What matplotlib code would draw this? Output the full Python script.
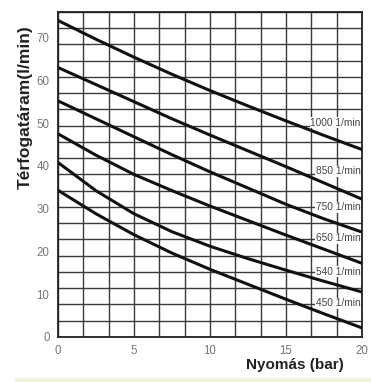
import numpy as np
import matplotlib
matplotlib.use("Agg")
import matplotlib.pyplot as plt

plt.rcParams['font.family'] = ['Liberation Sans', 'DejaVu Sans']

# pressure (bar)
pressure = [0, 2.5, 5, 7.5, 10, 12.5, 15, 17.5, 20]

# flow rate (l/min) per pump speed
flow_1000 = [74.0, 69.6, 65.4, 61.4, 57.6, 54.0, 50.5, 47.1, 43.8]
flow_850 = [63.0, 59.0, 55.0, 51.0, 47.2, 43.5, 39.8, 36.0, 32.2]
flow_750 = [55.2, 51.0, 46.8, 42.6, 38.6, 34.8, 31.0, 27.6, 24.5]
flow_650 = [47.5, 42.5, 38.0, 34.2, 30.6, 27.2, 23.8, 20.5, 17.2]
flow_540 = [40.8, 34.2, 28.8, 24.6, 21.2, 18.3, 15.6, 13.0, 10.5]
flow_450 = [34.3, 28.8, 23.9, 19.6, 15.8, 12.3, 8.8, 5.4, 2.1]

curve_labels = ['1000 1/min', '850 1/min', '750 1/min', '650 1/min', '540 1/min', '450 1/min']
label_y = [50.1, 38.7, 30.3, 23.1, 15.2, 7.9]

x_ticks = [0, 5, 10, 15, 20]
y_ticks = [0, 10, 20, 30, 40, 50, 60, 70]

fig = plt.figure(figsize=(3.71, 3.82), dpi=100)
fig.patch.set_facecolor('white')

# light green strip at the bottom
fig.patches.append(plt.Rectangle((0.04, 0), 0.96, 0.011, transform=fig.transFigure,
                                 color='#eef5dc', zorder=0))

ax = fig.add_axes([0.156, 0.118, 0.82, 0.851])
ax.set_xlim(0, 20)
ax.set_ylim(0, 76)

# grid
for gx in np.linspace(0, 20, 13):
    ax.axvline(gx, color='#3a3a3a', lw=1.0, zorder=1)
for gy in np.linspace(0, 76, 21):
    ax.axhline(gy, color='#3a3a3a', lw=1.0, zorder=1)

series = [flow_1000, flow_850, flow_750, flow_650, flow_540, flow_450]
for s, lab, ly in zip(series, curve_labels, label_y):
    ax.plot(pressure, s, color='#111111', lw=2.2, zorder=3, solid_joinstyle='round')
    ax.text(19.9, ly, lab, fontsize=7.3, color='#444444', ha='right', va='center',
            zorder=4, bbox=dict(boxstyle='square,pad=0.05', fc='white', ec='none'))

for sp in ax.spines.values():
    sp.set_color('#222222')
    sp.set_linewidth(1.3)

ax.set_xticks(x_ticks)
ax.set_yticks(y_ticks)
ax.tick_params(length=0, labelsize=8.3, labelcolor='#777777', pad=6)

fig.text(0.068, 0.72, 'Térfogatáram(l/min)', rotation=90, fontsize=12.5,
         fontweight='bold', color='#222222', ha='center', va='center')
fig.text(0.795, 0.045, 'Nyomás (bar)', fontsize=11, fontweight='bold',
         color='#222222', ha='center', va='center')

fig.savefig('out.png', dpi=100)
